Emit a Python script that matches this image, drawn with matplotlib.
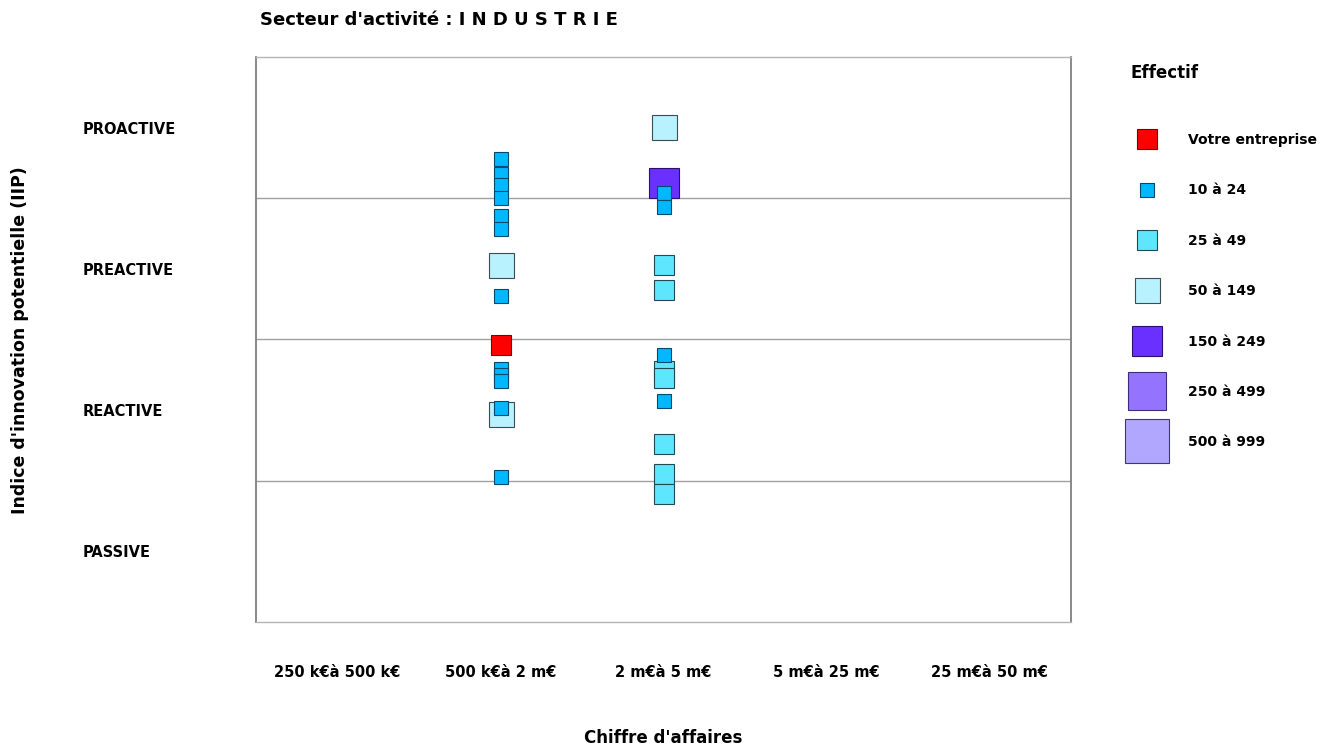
import matplotlib
matplotlib.use("Agg")
import matplotlib.pyplot as plt
from matplotlib.lines import Line2D

plt.rcParams['font.family'] = ['DejaVu Sans']
plt.rcParams['font.weight'] = 'bold'

categories = ["250 k€à 500 k€", "500 k€à 2 m€", "2 m€à 5 m€", "5 m€à 25 m€", "25 m€à 50 m€"]
levels = ["PASSIVE", "REACTIVE", "PREACTIVE", "PROACTIVE"]

# points per effectif class : category index + IIP value
votre_cat = [1]
votre_iip = [1.96]

e10_cat = [1, 1, 1, 1, 1, 1, 1, 1, 1, 1, 1, 1, 2, 2, 2, 2]
e10_iip = [3.276, 3.170, 3.094, 3.000, 2.876, 2.780, 2.308, 1.791, 1.749, 1.706, 1.517, 1.027,
           3.035, 2.938, 1.892, 1.567]

e25_cat = [2, 2, 2, 2, 2, 2, 2]
e25_iip = [2.530, 2.353, 1.779, 1.725, 1.260, 1.050, 0.904]

e50_cat = [1, 1, 2]
e50_iip = [2.527, 1.473, 3.504]

e150_cat = [2]
e150_iip = [3.106]

e250_cat = []
e250_iip = []

e500_cat = []
e500_iip = []

labels = ["Votre entreprise", "10 à 24", "25 à 49", "50 à 149", "150 à 249", "250 à 499", "500 à 999"]
colors = ["#ff0000", "#00b8ff", "#5fe6ff", "#b8f1ff", "#6a30ff", "#9474ff", "#b2a7ff"]
edges = ["#7a0000", "#004a6e", "#1f4a52", "#3c4d52", "#2a1070", "#3a2c80", "#3e3a60"]
sizes = [13.7, 10.1, 13.7, 18.0, 22.3, 26.7, 31.0]

series = [(votre_cat, votre_iip), (e10_cat, e10_iip), (e25_cat, e25_iip), (e50_cat, e50_iip),
          (e150_cat, e150_iip), (e250_cat, e250_iip), (e500_cat, e500_iip)]

W, H = 1333, 749
fig = plt.figure(figsize=(W / 100, H / 100), dpi=100)
ax = fig.add_axes([256 / W, 1 - 622 / H, 815 / W, 565 / H])

ax.set_xlim(0, len(categories))
ax.set_ylim(0, len(levels))

# big classes first, small on top, votre entreprise last
order = [6, 5, 4, 3, 2, 1, 0]
for z, i in enumerate(order):
    cat, iip = series[i]
    xs = [c + 0.5 for c in cat]
    ax.plot(xs, iip, linestyle="none", marker="s", markersize=sizes[i],
            markerfacecolor=colors[i], markeredgecolor=edges[i], markeredgewidth=0.8,
            zorder=3 + z)

for y in range(1, len(levels)):
    ax.axhline(y, color="#a0a0a0", linewidth=1.0, zorder=1)

ax.set_xticks([i + 0.5 for i in range(len(categories))])
ax.set_xticklabels(categories, fontsize=10.5, fontweight="bold")
ax.set_yticks([i + 0.5 for i in range(len(levels))])
ax.set_yticklabels(levels, fontsize=10.5, fontweight="bold")
ax.tick_params(axis="x", length=0, pad=31)
ax.tick_params(axis="y", length=0, pad=125)
for t in ax.get_yticklabels():
    t.set_horizontalalignment("left")

for side in ["left", "right"]:
    ax.spines[side].set_color("#808080")
    ax.spines[side].set_linewidth(1.3)
for side in ["top", "bottom"]:
    ax.spines[side].set_color("#b4b4b4")
    ax.spines[side].set_linewidth(1.0)

ax.set_xlabel("Chiffre d'affaires", fontsize=12, fontweight="bold")
ax.xaxis.set_label_coords((663 - 256) / 815, (622 - 738) / 565)
ax.xaxis.label.set_verticalalignment("center")
ax.set_ylabel("Indice d'innovation potentielle (IIP)", fontsize=12.5, fontweight="bold")
ax.yaxis.set_label_coords((20 - 256) / 815, (622 - 340) / 565)
ax.yaxis.label.set_verticalalignment("center")

fig.text(260 / W, 1 - 20 / H, "Secteur d'activité : I N D U S T R I E",
         fontsize=13, fontweight="bold", ha="left", va="center")

# legend
fig.text(1130 / W, 1 - 73 / H, "Effectif", fontsize=12, fontweight="bold", ha="left", va="center")
handles = []
for i in range(len(labels)):
    handles.append(Line2D([], [], linestyle="none", marker="s", markersize=sizes[i],
                          markerfacecolor=colors[i], markeredgecolor=edges[i],
                          markeredgewidth=0.8))
fig.legend(handles, labels, loc="upper left", bbox_to_anchor=(1133 / W, 1 - 133 / H),
           frameon=False, prop={"weight": "bold", "size": 10},
           borderpad=0, borderaxespad=0, handlelength=2, handletextpad=1.95,
           labelspacing=2.62)

fig.savefig("out.png", dpi=100)
